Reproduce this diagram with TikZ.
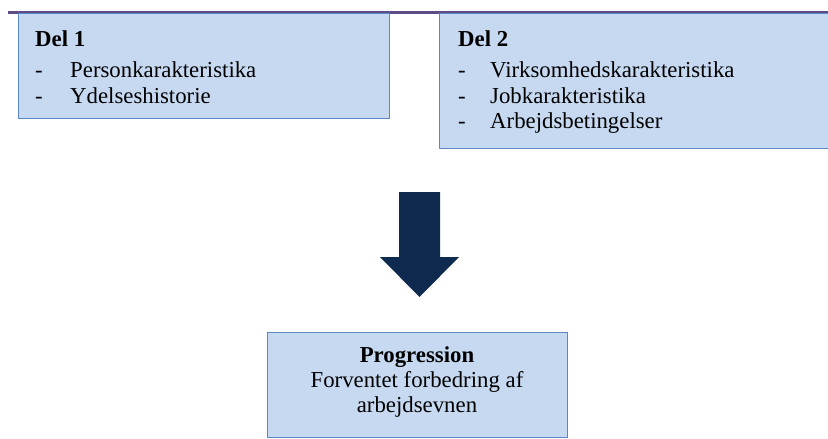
\documentclass[tikz,border=0pt]{standalone}
\usepackage{fontspec}
\setmainfont{Liberation Serif}
\definecolor{boxfill}{HTML}{C6D9F1}
\definecolor{boxline}{HTML}{5A88C4}
\definecolor{navy}{HTML}{0E2A4F}
\definecolor{topline}{HTML}{5F4B86}
\begin{document}
\begin{tikzpicture}[x=1pt,y=-1pt,
  box/.style={draw=boxline,fill=boxfill,line width=1.2pt,inner sep=0pt,anchor=north west},
  txt/.style={anchor=base west,inner sep=0pt,font=\fontsize{22.8}{26}\selectfont},
  ctxt/.style={anchor=base,inner sep=0pt,font=\fontsize{22.8}{26}\selectfont}]
\useasboundingbox (0,0) rectangle (828,439);
\draw[topline,line width=2.2pt] (8,12.5) -- (830,12.5);
\node[box,minimum width=371,minimum height=105] (d1) at (18,13) {};
\node[box,minimum width=395,minimum height=135] (d2) at (439,13) {};
\node[box,minimum width=300,minimum height=105] (pr) at (267,332) {};
% Del 1
\node[txt] (d1h) at (35,46) {\textbf{Del 1}};
\node[txt] (d1a) at (35,77) {-};
\node[txt] (d1at) at (70,77) {Personkarakteristika};
\node[txt] (d1b) at (35,103) {-};
\node[txt] (d1bt) at (70,103) {Ydelseshistorie};
% Del 2
\node[txt] (d2h) at (458,46) {\textbf{Del 2}};
\node[txt] (d2a) at (458,77) {-};
\node[txt] (d2at) at (490,77) {Virksomhedskarakteristika};
\node[txt] (d2b) at (458,103) {-};
\node[txt] (d2bt) at (490,103) {Jobkarakteristika};
\node[txt] (d2c) at (458,128) {-};
\node[txt] (d2ct) at (490,128) {Arbejdsbetingelser};
% Progression
\node[ctxt] (p1) at (417,362) {\textbf{Progression}};
\node[ctxt] (p2) at (417,387) {Forventet forbedring af};
\node[ctxt] (p3) at (417,412) {arbejdsevnen};
% arrow
\fill[navy] (399,192) -- (440,192) -- (440,257) -- (459,257) -- (419.5,297) -- (380,257) -- (399,257) -- cycle;
\end{tikzpicture}
\end{document}
